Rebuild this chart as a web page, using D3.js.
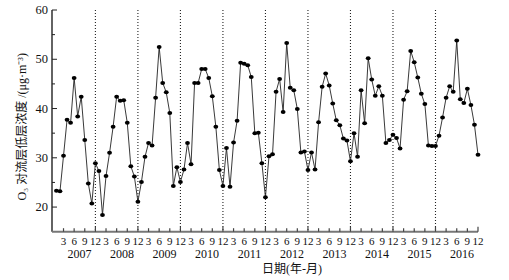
<!DOCTYPE html>
<html>
<head>
<meta charset="utf-8">
<script src="https://cdn.jsdelivr.net/npm/d3@7"></script>
<style>
  html, body { margin: 0; padding: 0; background: #fff; }
  #chart { width: 509px; height: 280px; }
  text { font-family: "Liberation Serif", "Noto Sans CJK SC", serif; fill: #111; }
</style>
</head>
<body>
<div id="chart"></div>
<script>
// chart data (monthly O3, Jan 2007 - Dec 2016)
const years = [2007, 2008, 2009, 2010, 2011, 2012, 2013, 2014, 2015, 2016];
const o3_2007 = [23.3, 23.2, 30.4, 37.7, 37.1, 46.2, 38.4, 42.4, 33.6, 24.8, 20.7, 28.9];
const o3_2008 = [27.3, 18.4, 26.3, 31.0, 36.3, 42.4, 41.6, 41.7, 37.1, 28.3, 26.2, 21.1];
const o3_2009 = [25.1, 30.2, 33.0, 32.5, 42.2, 52.5, 45.2, 43.3, 39.1, 24.3, 28.1, 25.1];
const o3_2010 = [27.6, 33.0, 28.7, 45.2, 45.2, 48.0, 48.0, 46.2, 42.5, 36.3, 27.5, 24.3];
const o3_2011 = [32.0, 24.1, 33.1, 37.5, 49.3, 49.1, 48.8, 46.4, 35.0, 35.1, 28.9, 22.0];
const o3_2012 = [30.3, 30.7, 43.4, 46.0, 39.3, 53.3, 44.2, 43.7, 39.9, 31.1, 31.3, 27.5];
const o3_2013 = [31.1, 27.6, 37.2, 44.4, 47.1, 44.7, 41.0, 37.6, 36.6, 33.9, 33.5, 29.3];
const o3_2014 = [35.0, 30.2, 43.7, 37.0, 50.2, 45.9, 42.6, 44.5, 42.6, 33.0, 33.6, 34.7];
const o3_2015 = [34.0, 31.9, 41.8, 43.5, 51.7, 49.4, 46.3, 43.0, 40.9, 32.5, 32.4, 32.4];
const o3_2016 = [34.5, 38.2, 42.2, 44.5, 43.4, 53.8, 41.9, 41.1, 44.0, 40.7, 36.7, 30.6];
const monthTicks = [3, 6, 9, 12];
const yTicks = [20, 30, 40, 50, 60];
const yMinorTicks = [25, 35, 45, 55];
const yLabel = "O\u2083 对流层低层浓度 /(μg·m\u207B\u00B3)";
const xLabel = "日期(年-月)";

const series = [o3_2007, o3_2008, o3_2009, o3_2010, o3_2011,
                o3_2012, o3_2013, o3_2014, o3_2015, o3_2016];
const data = series.flatMap((vals, yi) =>
  vals.map((v, m) => ({ idx: yi * 12 + m, year: years[yi], month: m + 1, value: v })));

const W = 509, H = 280;
const svg = d3.select("#chart").append("svg")
  .attr("width", W).attr("height", H);

// scales: index 0 = Jan 2007
const x = d3.scaleLinear().domain([-1.25, 119]).range([52, 478]);
const y = d3.scaleLinear().domain([15, 60]).range([231.7, 10]);

// dotted year separators (December of 2007..2015)
svg.append("g")
  .selectAll("line")
  .data(years.slice(0, -1))
  .join("line")
  .attr("x1", (d, i) => x(i * 12 + 11))
  .attr("x2", (d, i) => x(i * 12 + 11))
  .attr("y1", y(60))
  .attr("y2", y(15))
  .attr("stroke", "#222")
  .attr("stroke-width", 1.1)
  .attr("stroke-dasharray", "1,2");

// Y axis
const yAxis = svg.append("g");
yAxis.append("line")
  .attr("x1", x(-1.25)).attr("x2", x(-1.25))
  .attr("y1", y(60)).attr("y2", y(15))
  .attr("stroke", "#222").attr("stroke-width", 1.4);
yAxis.selectAll(".major")
  .data(yTicks)
  .join("line")
  .attr("x1", x(-1.25)).attr("x2", x(-1.25) + 5)
  .attr("y1", (d) => y(d)).attr("y2", (d) => y(d))
  .attr("stroke", "#222").attr("stroke-width", 1);
yAxis.selectAll(".minor")
  .data(yMinorTicks)
  .join("line")
  .attr("x1", x(-1.25)).attr("x2", x(-1.25) + 3)
  .attr("y1", (d) => y(d)).attr("y2", (d) => y(d))
  .attr("stroke", "#222").attr("stroke-width", 1);
yAxis.selectAll("text")
  .data(yTicks)
  .join("text")
  .attr("x", x(-1.25) - 4)
  .attr("y", (d) => y(d) + 4)
  .attr("text-anchor", "end")
  .attr("font-size", "12.5px")
  .text((d) => d);

// X axis
const xAxis = svg.append("g");
xAxis.append("line")
  .attr("x1", x(-1.25)).attr("x2", x(119))
  .attr("y1", y(15)).attr("y2", y(15))
  .attr("stroke", "#777").attr("stroke-width", 2);
const xTickData = years.flatMap((yr, yi) =>
  monthTicks.map((m) => ({ idx: yi * 12 + m - 1, month: m })));
xAxis.selectAll(".tick")
  .data(xTickData)
  .join("line")
  .attr("x1", (d) => x(d.idx)).attr("x2", (d) => x(d.idx))
  .attr("y1", y(15))
  .attr("y2", (d) => y(15) - (d.month === 12 ? 5 : 3.5))
  .attr("stroke", "#444").attr("stroke-width", 1.2);
xAxis.selectAll(".mlab")
  .data(xTickData)
  .join("text")
  .attr("x", (d) => x(d.idx))
  .attr("y", 245)
  .attr("text-anchor", "middle")
  .attr("font-size", "11px")
  .text((d) => d.month);
xAxis.selectAll(".ylab")
  .data(years)
  .join("text")
  .attr("x", (d, i) => x(i * 12 + 6.5))
  .attr("y", 258)
  .attr("text-anchor", "middle")
  .attr("font-size", "12px")
  .text((d) => d);

// axis titles
svg.append("text")
  .attr("x", 292)
  .attr("y", 273)
  .attr("text-anchor", "middle")
  .attr("font-size", "12px")
  .attr("font-family", "'Noto Sans CJK SC', sans-serif")
  .text(xLabel);
svg.append("text")
  .attr("transform", `translate(26,${(y(60) + y(15)) / 2 + 6}) rotate(-90)`)
  .attr("text-anchor", "middle")
  .attr("font-size", "12px")
  .text(yLabel);

// line + markers
svg.append("path")
  .datum(data)
  .attr("fill", "none")
  .attr("stroke", "#222")
  .attr("stroke-width", 0.9)
  .attr("d", d3.line().x((d) => x(d.idx)).y((d) => y(d.value)));
svg.append("g")
  .selectAll("ellipse")
  .data(data)
  .join("ellipse")
  .attr("cx", (d) => x(d.idx))
  .attr("cy", (d) => y(d.value))
  .attr("rx", 2.4)
  .attr("ry", 2)
  .attr("fill", "#000");
</script>
</body>
</html>
